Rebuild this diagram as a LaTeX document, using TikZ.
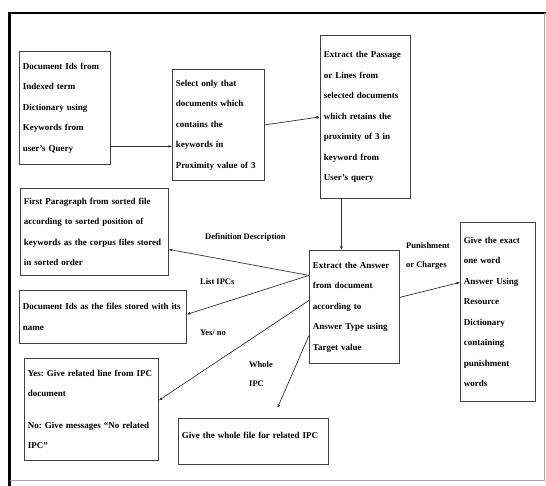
\documentclass[tikz,border=0pt]{standalone}
\usepackage{fontspec}
\setmainfont{Liberation Serif}
\frenchspacing
\usetikzlibrary{calc,positioning,arrows.meta}
\tikzset{
 qa frame/.style={line width=2.5pt,black},
 qa box/.style={draw=black!75,line width=.8pt,anchor=north west,inner xsep=3.5pt,
                inner ysep=0pt,align=left,font=\bfseries\fontsize{9}{20.5}\selectfont},
 qa arrow/.style={draw=black!80,line width=.7pt,-{Latex[length=3.5pt,width=3pt]}},
 qa label/.style={align=left,inner sep=0pt,font=\bfseries\fontsize{8.5}{18.5}\selectfont}
}

\begin{document}
\begin{tikzpicture}[x=1pt,y=-1pt]
 \useasboundingbox (0,0) rectangle (546,486);
 % outer frame
 \draw[qa frame] (9.5,486) -- (9.5,13) -- (546,13);
 \draw[black!35,line width=.6pt] (544,13) -- (544,480) -- (9.5,480);
 % retrieval steps
 \node[qa box,text width=84pt,minimum height=113pt] (A) at (19,51)
   {Document Ids from\\Indexed term\\Dictionary using\\Keywords from\\user's Query};
 \node[qa box,text width=85pt,minimum height=111pt] (B) at (172,69)
   {Select only that\\documents which\\contains the\\keywords in\\Proximity value of 3};
 \node[qa box,text width=83pt,minimum height=163pt] (C) at (320,35)
   {Extract the Passage\\or Lines from\\selected documents\\which retains the\\proximity of 3 in\\keyword from\\User's query};
 \node[qa box,text width=83pt,minimum height=113pt] (H) at (309,250)
   {Extract the Answer\\from document\\according to\\Answer Type using\\Target value};
 % answer types
 \node[qa box,text width=141pt,minimum height=87pt] (D) at (20,188)
   {First Paragraph from sorted file\\according to sorted position of\\keywords as the corpus files stored\\in sorted order};
 \node[qa box,text width=160pt,minimum height=53pt] (E) at (19,290)
   {Document Ids as the files stored with its\\name};
 \node[qa box,text width=127pt,minimum height=102pt] (F) at (24,358)
   {Yes: Give related line from IPC\\document\\[11pt]No: Give messages “No related\\IPC”};
 \node[qa box,text width=143pt,minimum height=46pt] (G) at (178,418)
   {Give the whole file for related IPC\\[-8pt]~};
 \node[qa box,text width=68pt,minimum height=179pt] (I) at (460,222)
   {Give the exact\\one word\\Answer Using\\Resource\\Dictionary\\containing\\punishment\\words};
 % connectors
 \draw[qa arrow] ([yshift=-38.5pt]A.east) -- ([yshift=-21.5pt]B.west);
 \draw[qa arrow] (B.east) -- (C.west);
 \draw[qa arrow] ([xshift=-24pt]C.south) -- ([xshift=-24pt]C.south |- H.north);
 \draw[qa arrow] ([yshift=31.5pt]H.west) -- ([yshift=-17.5pt]D.east);
 \draw[qa arrow] ([yshift=31.5pt]H.west) -- ([yshift=2.5pt]E.east);
 \draw[qa arrow] ([yshift=6.5pt]H.west) -- ([yshift=9pt]F.east);
 \draw[qa arrow] ([yshift=-28.5pt]H.west) -- ([xshift=24pt,yshift=10pt]G.north);
 \draw[qa arrow] ([yshift=9.5pt]H.east) -- ([yshift=29.5pt]I.west);
 % connector labels
 \node[qa label,anchor=west] (ldef) at (205,237) {Definition Description};
 \node[qa label,anchor=west] (llist) at (200,282) {List IPCs};
 \node[qa label,anchor=west] (lyes) at (200,333) {Yes/ no};
 \node[qa label,anchor=west] (lwhole) at (249,374) {Whole\\IPC};
 \node[qa label,anchor=west] (lpun) at (406,256) {Punishment\\or Charges};
\end{tikzpicture}
\end{document}
